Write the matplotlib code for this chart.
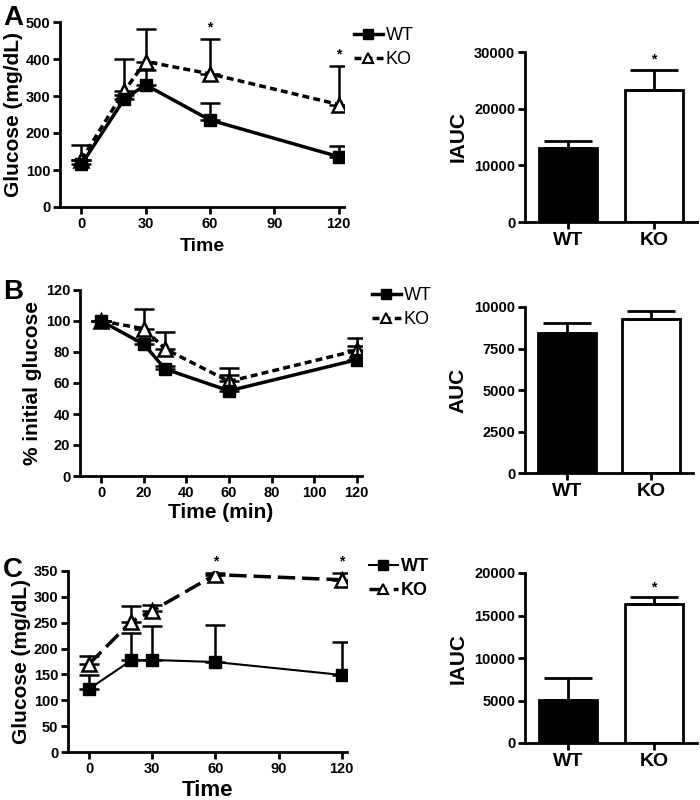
import matplotlib
matplotlib.use("Agg")
import matplotlib.pyplot as plt
from matplotlib.lines import Line2D

plt.rcParams['font.family'] = ['Liberation Sans', 'DejaVu Sans']
plt.rcParams['font.weight'] = 'bold'

# ---- data ----
time_pts = [0, 20, 30, 60, 120]
groups = ['WT', 'KO']

# Panel A: glucose tolerance
a_wt = [115, 292, 330, 235, 136]
a_wt_err = [12, 12, 40, 47, 29]
a_ko = [128, 314, 393, 360, 277]
a_ko_err = [39, 87, 87, 95, 104]
a_stars = [60, 120]
a_iauc = [13100, 23300]
a_iauc_err = [1200, 3600]

# Panel B: insulin tolerance (% initial)
b_wt = [100, 85, 69, 55, 75]
b_wt_err = [0, 3, 2, 10, 9]
b_ko = [100, 95, 82, 61, 81]
b_ko_err = [0, 13, 11, 9, 8]
b_auc = [8440, 9300]
b_auc_err = [600, 460]

# Panel C
c_wt = [122, 177, 178, 174, 149]
c_wt_err = [26, 53, 66, 72, 63]
c_ko = [170, 252, 273, 343, 333]
c_ko_err = [16, 30, 12, 3, 13]
c_stars = [60, 120]
c_iauc = [5050, 16300]
c_iauc_err = [2600, 900]

W, H = 700, 800
fig = plt.figure(figsize=(7, 8), dpi=100)


def px_axes(left, top, right, bottom):
    return fig.add_axes([left / W, 1 - bottom / H, (right - left) / W, (bottom - top) / H])


def style(ax):
    for s in ['top', 'right']:
        ax.spines[s].set_visible(False)
    for s in ['left', 'bottom']:
        ax.spines[s].set_linewidth(2)
    ax.tick_params(direction='out', length=5, width=2, labelsize=10.5, pad=2)
    for lab in ax.get_xticklabels() + ax.get_yticklabels():
        lab.set_fontweight('bold')


def line_panel(ax, wt, wt_err, ko, ko_err, wt_lw, ko_ls, ko_lw):
    up = [0] * len(time_pts)
    ax.errorbar(time_pts, ko, yerr=[up, ko_err], color='black', ls=ko_ls, lw=ko_lw,
                marker='^', ms=10, mfc='white', mec='black', mew=1.8,
                ecolor='black', elinewidth=1.8, capsize=7, capthick=1.8, zorder=3)
    ax.errorbar(time_pts, wt, yerr=[up, wt_err], color='black', ls='-', lw=wt_lw,
                marker='s', ms=9, mfc='black', mec='black',
                ecolor='black', elinewidth=1.8, capsize=7, capthick=1.8, zorder=4)
    ax.set_xlim(-10, 122.5)


def bar_panel(ax, vals, errs, ylim, yticks, ylabel, star=False):
    ax.bar([0, 1], vals, width=0.68, color=['black', 'white'], edgecolor='black', linewidth=2)
    ax.errorbar([0, 1], vals, yerr=[[0, 0], errs], fmt='none', ecolor='black',
                elinewidth=2, capsize=17, capthick=2)
    ax.set_xlim(-0.5, 1.5)
    ax.set_ylim(*ylim)
    ax.set_yticks(yticks)
    ax.set_xticks([0, 1])
    ax.set_xticklabels(groups, fontsize=14, fontweight='bold')
    ax.set_ylabel(ylabel, fontsize=15, fontweight='bold', labelpad=5)
    style(ax)
    ax.tick_params(axis='x', labelsize=14)
    if star:
        ax.annotate('*', (1, vals[1] + errs[1]), xytext=(0, 2), textcoords='offset points',
                    ha='center', va='bottom', fontsize=10)


def legend(ax, x, y, ls_ko, bold, wt_lw, ko_lw):
    handles = [Line2D([], [], color='black', lw=wt_lw, marker='s', ms=7),
               Line2D([], [], color='black', lw=ko_lw, ls=ls_ko, marker='^', ms=7, mfc='white', mew=1.5)]
    ax.legend(handles, groups, loc='upper left', bbox_to_anchor=(x, y), bbox_transform=fig.transFigure,
              frameon=False, borderpad=0, borderaxespad=0, handlelength=1.6, handletextpad=0.15,
              labelspacing=0.4, prop={'size': 13, 'weight': 'bold' if bold else 'normal'})


# ---- A ----
ax = px_axes(60, 22, 344, 207)
line_panel(ax, a_wt, a_wt_err, a_ko, a_ko_err, 2.5, (0, (2, 1.2)), 2.5)
ax.set_ylim(0, 500)
ax.set_yticks(range(0, 501, 100))
ax.set_xticks([0, 30, 60, 90, 120])
for t in a_stars:
    i = time_pts.index(t)
    ax.annotate('*', (t, a_ko[i] + a_ko_err[i]), xytext=(0, 3), textcoords='offset points',
                ha='center', va='bottom', fontsize=10)
ax.set_xlabel('Time', fontsize=14, fontweight='bold', labelpad=5)
ax.set_ylabel('Glucose (mg/dL)', fontsize=15, fontweight='bold', labelpad=2)
style(ax)
legend(ax, 354 / W, 1 - 27 / H, (0, (2, 1.2)), False, 2.5, 2.5)

ax = px_axes(525, 52, 697, 222)
bar_panel(ax, a_iauc, a_iauc_err, (0, 30000), [0, 10000, 20000, 30000], 'IAUC', star=True)

# ---- B ----
ax = px_axes(80, 290, 362, 476)
line_panel(ax, b_wt, b_wt_err, b_ko, b_ko_err, 2.5, (0, (2, 1.2)), 2.5)
ax.set_ylim(0, 120)
ax.set_yticks(range(0, 121, 20))
ax.set_xticks(range(0, 121, 20))
ax.set_xlabel('Time (min)', fontsize=15, fontweight='bold', labelpad=2)
ax.set_ylabel('% initial glucose', fontsize=15, fontweight='bold', labelpad=3)
style(ax)
legend(ax, 372 / W, 1 - 287 / H, (0, (2, 1.2)), False, 2.5, 2.5)

ax = px_axes(525, 307, 693, 473)
bar_panel(ax, b_auc, b_auc_err, (0, 10000), [0, 2500, 5000, 7500, 10000], 'AUC')

# ---- C ----
ax = px_axes(68, 571, 347, 752)
line_panel(ax, c_wt, c_wt_err, c_ko, c_ko_err, 1.5, (0, (5, 2)), 2.5)
ax.set_ylim(0, 350)
ax.set_yticks(range(0, 351, 50))
ax.set_xticks([0, 30, 60, 90, 120])
for t in c_stars:
    i = time_pts.index(t)
    ax.annotate('*', (t, c_ko[i] + c_ko_err[i]), xytext=(0, 3), textcoords='offset points',
                ha='center', va='bottom', fontsize=10)
ax.set_xlabel('Time', fontsize=16, fontweight='bold', labelpad=3)
ax.set_ylabel('Glucose (mg/dL)', fontsize=15, fontweight='bold', labelpad=2)
style(ax)
legend(ax, 369 / W, 1 - 558 / H, (0, (5, 2)), True, 1.5, 2.5)

ax = px_axes(525, 573, 697, 743)
bar_panel(ax, c_iauc, c_iauc_err, (0, 20000), [0, 5000, 10000, 15000, 20000], 'IAUC', star=True)

# panel letters
for letter, ypx in [('A', 18), ('B', 292), ('C', 570)]:
    fig.text(3 / W, 1 - ypx / H, letter, fontsize=20, fontweight='bold', va='center', ha='left')

fig.savefig('out.png', dpi=100)
